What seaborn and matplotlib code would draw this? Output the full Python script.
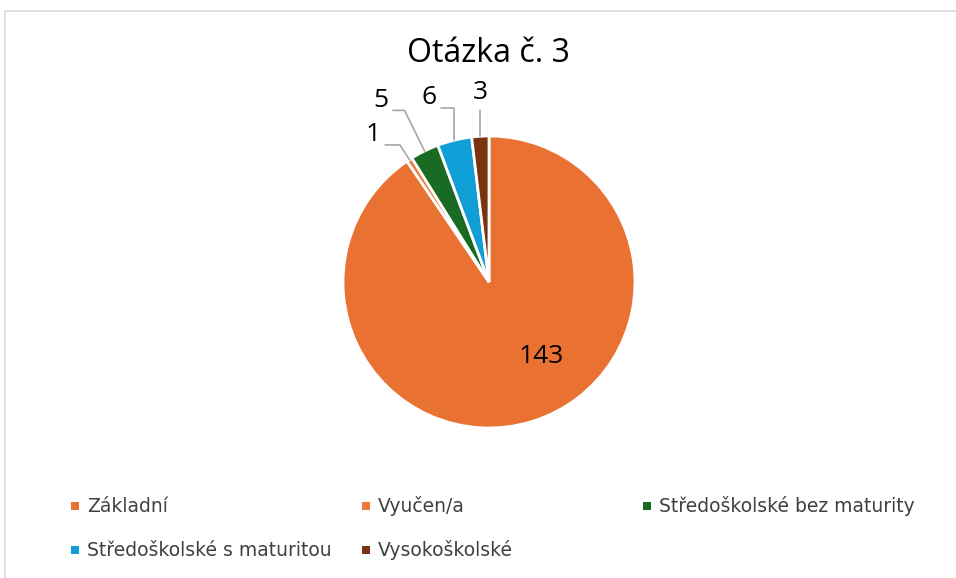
import numpy as np
import matplotlib
matplotlib.use("Agg")
import matplotlib.pyplot as plt
from matplotlib.patches import Rectangle
import seaborn as sns

categories = ["Základní", "Vyučen/a", "Středoškolské bez maturity",
              "Středoškolské s maturitou", "Vysokoškolské"]
counts = [143, 1, 5, 6, 3]
colors = sns.color_palette(["#E97132", "#EC7A3A", "#196B24", "#0F9ED5", "#7A3310"])

sns.set_theme(style="white")
plt.rcParams['font.family'] = ['Open Sans', 'DejaVu Sans']

W, H = 956, 578
fig = plt.figure(figsize=(W / 100, H / 100), dpi=100)

# light frame of the chart area
fig.add_artist(Rectangle((5 / W, -0.5), 1.5, 0.5 + (H - 10.5) / H, transform=fig.transFigure,
                         fill=False, edgecolor="#d9d9d9", linewidth=1.2))

cx, cy, r = 489, 282, 146
ax = fig.add_axes([(cx - r) / W, (H - cy - r) / H, 2 * r / W, 2 * r / H])
wedges, _ = ax.pie(counts, colors=colors, startangle=90, counterclock=False,
                   wedgeprops=dict(edgecolor="white", linewidth=2))
ax.set_xlim(-1, 1)
ax.set_ylim(-1, 1)
ax.set_aspect("equal")
ax.axis("off")

fig.suptitle("Otázka č. 3", x=488 / W, y=1 - 54 / H, va="center", fontsize=23, color="black")

# label of the big slice inside (nudged toward the right like Excel does)
w = wedges[0]
mid = np.deg2rad((w.theta1 + w.theta2) / 2 + 18)
ax.text(0.62 * np.cos(mid), 0.62 * np.sin(mid), str(counts[0]), ha="center", va="center",
        fontsize=19, color="black")

# outside labels with leader lines: radial step, horizontal step (data units)
radial = [0.12, 0.31, 0.23, 0.18]
horiz = [0.10, 0.08, 0.09, 0.0]
for w, n, rs, hs in zip(wedges[1:], counts[1:], radial, horiz):
    mid = np.deg2rad((w.theta1 + w.theta2) / 2)
    ax_, ay_ = np.cos(mid), np.sin(mid)
    ex, ey = (1 + rs) * ax_, (1 + rs) * ay_
    if n in (6, 3):
        ex = ax_
    if hs > 0:
        fx = ex - hs
        ax.plot([ax_, ex, fx], [ay_, ey, ey], color="#a6a6a6", lw=1.2, clip_on=False)
        ax.text(fx - 0.03, ey + 0.07, str(n), ha="right", va="center", fontsize=19, color="black")
    else:
        ax.plot([ax_, ex], [ay_, ey], color="#a6a6a6", lw=1.2, clip_on=False)
        ax.text(ex, ey + 0.12, str(n), ha="center", va="center", fontsize=19, color="black")

# legend laid out like Excel: three columns, two rows
col_x = [75, 366, 647]
row_y = [506, 550]
slots = [(0, 0), (1, 0), (2, 0), (0, 1), (1, 1)]
for (c, rw), lab, col in zip(slots, categories, colors):
    x, y = col_x[c], row_y[rw]
    fig.add_artist(Rectangle(((x - 4) / W, 1 - (y + 4) / H), 8 / W, 8 / H,
                             transform=fig.transFigure, facecolor=col, edgecolor="none"))
    fig.text((x + 12) / W, 1 - y / H, lab, ha="left", va="center",
             family=['DejaVu Sans'], fontsize=13.5, color="#404040")

fig.savefig("out.png", dpi=100)
